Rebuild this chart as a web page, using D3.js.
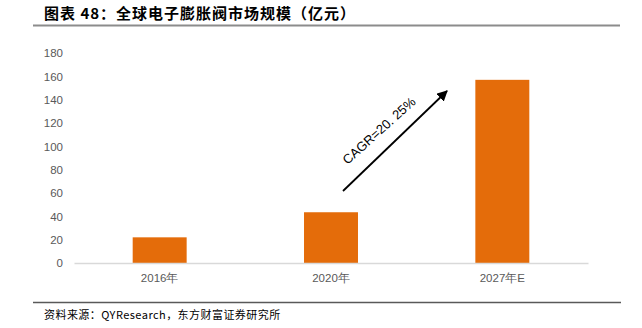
<!DOCTYPE html>
<html><head><meta charset="utf-8">
<script src="https://cdn.jsdelivr.net/npm/d3@7"></script>
<style>html,body{margin:0;padding:0;background:#fff;}svg{display:block;}</style>
</head><body>
<script>
const categories = ["2016年", "2020年", "2027年E"];
const values = [22, 43.5, 157];
const yTicks = [0, 20, 40, 60, 80, 100, 120, 140, 160, 180];
const titleText = "图表 48：全球电子膨胀阀市场规模（亿元）";
const sourceText = "资料来源：QYResearch，东方财富证券研究所";
const cagrText = "CAGR=20. 25%";

const W = 642, H = 328;
const svg = d3.select("body").append("svg").attr("width", W).attr("height", H);

// header
svg.append("text").attr("x", 44).attr("y", 19)
  .attr("font-family", "'Noto Sans CJK SC', sans-serif").attr("font-weight", "bold")
  .attr("font-size", 15).attr("letter-spacing", 1).attr("fill", "#000").text(titleText);
svg.append("line").attr("x1", 33).attr("x2", 620).attr("y1", 25.5).attr("y2", 25.5)
  .attr("stroke", "#8c8c8c").attr("stroke-width", 2);

const x = d3.scaleBand().domain(categories).range([74, 588]).paddingInner(0.685).paddingOuter(0.3425);
const y = d3.scaleLinear().domain([0, 180]).range([263, 53]);

// y axis labels
const yAxis = d3.axisLeft(y).tickValues(yTicks).tickSize(0).tickPadding(0);
const gy = svg.append("g").attr("transform", "translate(63,0)").call(yAxis);
gy.select(".domain").remove();
gy.selectAll("text").attr("font-family", "'Liberation Sans', Arial, sans-serif")
  .attr("font-size", 11.5).attr("fill", "#595959");

// bars
svg.append("g").selectAll("rect").data(values).join("rect")
  .attr("x", (d, i) => x(categories[i]))
  .attr("width", x.bandwidth())
  .attr("y", d => y(d))
  .attr("height", d => y(0) - y(d))
  .attr("fill", "#E46C0A");

// x axis
const xAxis = d3.axisBottom(x).tickSize(0).tickPadding(11);
const gx = svg.append("g").attr("transform", `translate(0,${y(0)})`).call(xAxis);
gx.select(".domain").attr("stroke", "#d9d9d9").attr("stroke-width", 1.5);
gx.selectAll("text").attr("font-family", "'Liberation Sans', Arial, sans-serif")
  .attr("font-size", 11.5).attr("fill", "#595959");

// CAGR arrow
const defs = svg.append("defs");
defs.append("marker").attr("id", "ah").attr("viewBox", "0 0 10 10").attr("refX", 9).attr("refY", 5)
  .attr("markerWidth", 6).attr("markerHeight", 6).attr("orient", "auto")
  .append("path").attr("d", "M0,0 L10,5 L0,10 z").attr("fill", "#000");
svg.append("line").attr("x1", 343).attr("y1", 191).attr("x2", 447).attr("y2", 91)
  .attr("stroke", "#000").attr("stroke-width", 1.8).attr("marker-end", "url(#ah)");
svg.append("text").attr("transform", "translate(382,134) rotate(-42)")
  .attr("text-anchor", "middle").attr("font-family", "'Liberation Sans Narrow', 'Liberation Sans', sans-serif")
  .attr("font-size", 13).attr("fill", "#000").text(cagrText);

// footer
svg.append("line").attr("x1", 33).attr("x2", 621).attr("y1", 302.5).attr("y2", 302.5)
  .attr("stroke", "#595959").attr("stroke-width", 1.5);
svg.append("text").attr("x", 44).attr("y", 319)
  .attr("font-family", "'Noto Sans CJK SC', sans-serif")
  .attr("font-size", 11).attr("letter-spacing", 0.45).attr("fill", "#000").text(sourceText);
</script>
</body></html>
